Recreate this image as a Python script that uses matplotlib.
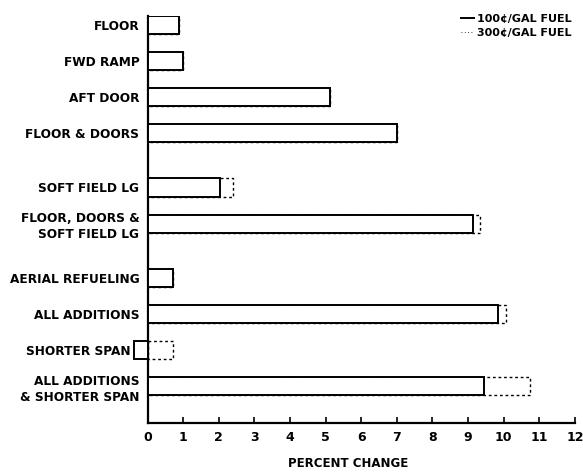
import matplotlib.pyplot as plt
from matplotlib.lines import Line2D
from matplotlib.transforms import ScaledTranslation

# categories (top to bottom) and values
labels = ["FLOOR", "FWD RAMP", "AFT DOOR", "FLOOR & DOORS", "SOFT FIELD LG",
          "FLOOR, DOORS &\nSOFT FIELD LG", "AERIAL REFUELING", "ALL ADDITIONS",
          "SHORTER SPAN", "ALL ADDITIONS\n& SHORTER SPAN"]
fuel_100 = [0.88, 1.0, 5.12, 7.0, 2.03, 9.13, 0.7, 9.84, -0.38, 9.45]
fuel_300 = [0.88, 1.0, 5.12, 7.0, 2.4, 9.33, 0.7, 10.08, 0.7, 10.74]
ticks = list(range(0, 13))

# vertical slots (gaps after FLOOR & DOORS and FLOOR, DOORS & SOFT FIELD LG)
ypos = [0, 1, 2, 3, 4.5, 5.5, 7, 8, 9, 10]

plt.rcParams["font.family"] = ["DejaVu Sans"]
plt.rcParams["font.weight"] = "bold"

fig = plt.figure(figsize=(5.83, 4.75), dpi=100)
ax = fig.add_axes([0.2166, 0.1103, 0.7755, 0.8560])

# 300 c/gal bars: dashed outlines behind
ax.barh(ypos, fuel_300, height=0.5, facecolor="none", edgecolor="black",
        linestyle=(0, (2, 2)), linewidth=1.0, zorder=2)
# 100 c/gal bars: solid outlines with white fill
ax.barh(ypos, fuel_100, height=0.5, facecolor="white", edgecolor="black",
        linewidth=1.4, zorder=3)

ax.set_ylim(11.0, -0.24)
ax.set_xlim(-0.6, 12.1)
ax.spines["left"].set_bounds(11.0, -0.24)
ax.spines["left"].set_position(("data", 0))
ax.spines["bottom"].set_bounds(0, 12)
for s in ["top", "right"]:
    ax.spines[s].set_visible(False)
for s in ["left", "bottom"]:
    ax.spines[s].set_linewidth(1.6)

ax.set_yticks(ypos)
ax.set_yticklabels(labels, fontsize=8.7, fontweight="bold", linespacing=1.3)
ax.tick_params(axis="y", length=0, pad=6)
# the SHORTER SPAN label sits left of its negative bar
for lab in ax.get_yticklabels():
    if lab.get_text() == "SHORTER SPAN":
        lab.set_transform(lab.get_transform() + ScaledTranslation(-6 / 72, 0, fig.dpi_scale_trans))

ax.set_xticks(ticks)
ax.set_xticklabels([str(t) for t in ticks], fontsize=9, fontweight="bold")
ax.tick_params(axis="x", direction="in", length=4, width=1.2, pad=6)

ax.set_xlabel("PERCENT CHANGE", fontsize=8.5, fontweight="bold")
ax.xaxis.set_label_coords(0.49, -0.085)

handles = [Line2D([], [], color="black", lw=1.4),
           Line2D([], [], color="black", lw=0.6, linestyle=(0, (1, 3)))]
ax.legend(handles, ["100¢/GAL FUEL", "300¢/GAL FUEL"], loc="upper right",
          bbox_to_anchor=(1.008, 1.03), frameon=False, fontsize=8,
          handlelength=1.2, handletextpad=0.3, labelspacing=0.4)

plt.savefig("out.png", dpi=100)
